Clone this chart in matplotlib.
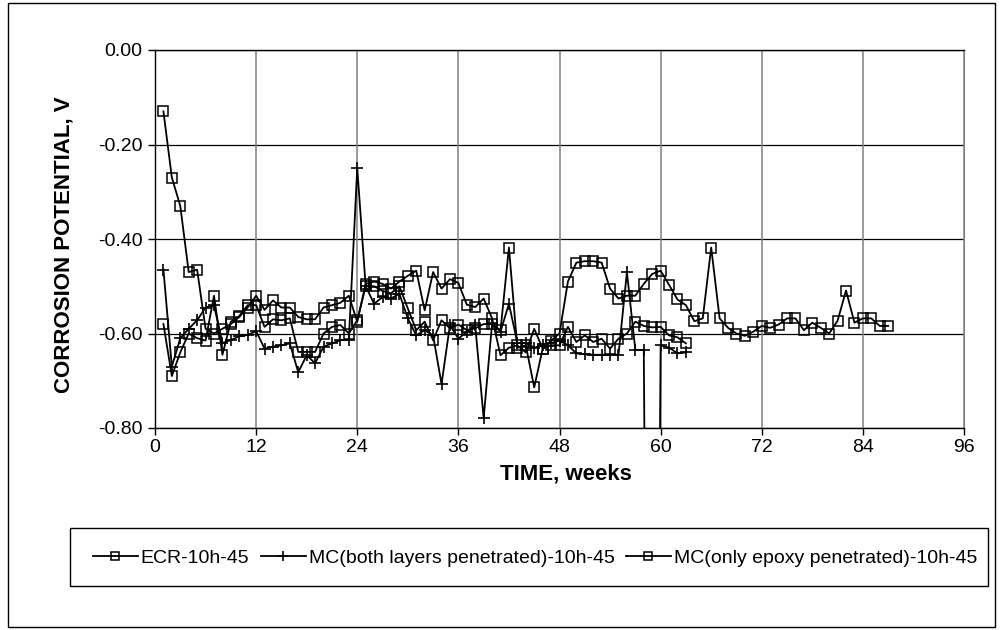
import numpy as np
import matplotlib
matplotlib.use("Agg")
import matplotlib.pyplot as plt
from matplotlib.patches import Rectangle

# -------------------------------------------------------------
# DATA (weekly readings)
# -------------------------------------------------------------
series_names = ["ECR-10h-45",
                "MC(both layers penetrated)-10h-45",
                "MC(only epoxy penetrated)-10h-45"]

ecr_weeks = list(range(1, 88))
ecr_values = [-0.13, -0.27, -0.33, -0.47, -0.465, -0.59, -0.60, -0.59, -0.58, -0.565,
              -0.545, -0.52, -0.55, -0.53, -0.545, -0.545, -0.565, -0.57, -0.57, -0.545,
              -0.54, -0.535, -0.52, -0.575, -0.495, -0.49, -0.495, -0.505, -0.49, -0.478,
              -0.467, -0.551, -0.47, -0.505, -0.485, -0.493, -0.539, -0.544, -0.526, -0.568,
              -0.646, -0.63, -0.625, -0.64, -0.59, -0.632, -0.615, -0.60, -0.49, -0.45,
              -0.447, -0.447, -0.45, -0.505, -0.526, -0.52, -0.52, -0.495, -0.474, -0.467,
              -0.497, -0.528, -0.54, -0.574, -0.568, -0.418, -0.568, -0.588, -0.60, -0.605,
              -0.596, -0.584, -0.588, -0.581, -0.568, -0.568, -0.593, -0.577, -0.588, -0.60,
              -0.573, -0.509, -0.577, -0.568, -0.568, -0.584, -0.584]

both_weeks = list(range(1, 64))
both_values = [-0.465, -0.67, -0.61, -0.59, -0.572, -0.545, -0.54, -0.62, -0.614, -0.606,
               -0.603, -0.595, -0.632, -0.628, -0.625, -0.621, -0.682, -0.646, -0.663, -0.628,
               -0.621, -0.614, -0.614, -0.25, -0.50, -0.537, -0.523, -0.526, -0.516, -0.568,
               -0.604, -0.593, -0.604, -0.707, -0.582, -0.611, -0.596, -0.583, -0.779, -0.579,
               -0.596, -0.537, -0.62, -0.62, -0.63, -0.625, -0.62, -0.615, -0.625, -0.642,
               -0.644, -0.645, -0.645, -0.645, -0.645, -0.47, -0.635, -0.635, -3.0, -0.625,
               -0.63, -0.642, -0.64]

epoxy_weeks = list(range(1, 64))
epoxy_values = [-0.58, -0.69, -0.64, -0.60, -0.61, -0.615, -0.52, -0.645, -0.575, -0.563,
                -0.54, -0.54, -0.586, -0.57, -0.572, -0.568, -0.639, -0.639, -0.639, -0.60,
                -0.586, -0.582, -0.60, -0.572, -0.50, -0.50, -0.51, -0.515, -0.50, -0.547,
                -0.593, -0.575, -0.614, -0.572, -0.589, -0.581, -0.593, -0.589, -0.58, -0.58,
                -0.593, -0.418, -0.63, -0.625, -0.714, -0.632, -0.625, -0.625, -0.586, -0.618,
                -0.604, -0.618, -0.611, -0.632, -0.611, -0.60, -0.575, -0.584, -0.587, -0.586,
                -0.604, -0.608, -0.621]

x_ticks = list(range(0, 97, 12))
y_ticks = [0.0, -0.2, -0.4, -0.6, -0.8]

# -------------------------------------------------------------
# FIGURE
# -------------------------------------------------------------
plt.rcParams['font.family'] = ['Liberation Sans', 'DejaVu Sans']
plt.rcParams['axes.unicode_minus'] = False

W, H = 1001, 630
fig = plt.figure(figsize=(W / 100, H / 100), dpi=100)

# plot area in pixels: left 155, right 964, top 50, bottom 428
ax = fig.add_axes([155 / W, 1 - 428 / H, (964 - 155) / W, (428 - 50) / H])

line_kw = dict(color='black', lw=1.3, clip_on=True)
ax.plot(ecr_weeks, ecr_values, marker='s', ms=6.5, mfc='none', mec='black',
        mew=1.1, label=series_names[0], **line_kw)
ax.plot(both_weeks, both_values, marker='+', ms=9, mew=1.2,
        label=series_names[1], **line_kw)
ax.plot(epoxy_weeks, epoxy_values, marker='s', ms=6.5, mfc='none', mec='black',
        mew=1.1, label=series_names[2], **line_kw)

ax.set_xlim(0, 96)
ax.set_ylim(-0.8, 0.0)
ax.set_xticks(x_ticks)
ax.set_yticks(y_ticks)
ax.set_yticklabels([f"{v:.2f}" for v in y_ticks])

# gridlines: horizontal black, vertical gray
for v in y_ticks:
    ax.axhline(v, color='black', lw=0.9, zorder=0)
for t in x_ticks:
    ax.axvline(t, color='#808080', lw=1.1, zorder=0)

for side in ['left', 'bottom', 'top']:
    ax.spines[side].set_color('black')
    ax.spines[side].set_linewidth(1.0)
ax.spines['right'].set_color('#808080')

ax.tick_params(axis='both', direction='out', length=5, width=1, labelsize=14)
ax.tick_params(axis='x', pad=3)
ax.tick_params(axis='y', pad=4)

fig.text(64 / W, 1 - 245 / H, "CORROSION POTENTIAL, V", rotation=90,
         ha='center', va='center', fontsize=16, fontweight='bold')
fig.text(566 / W, 1 - 474 / H, "TIME, weeks", ha='center', va='center',
         fontsize=16, fontweight='bold')

# legend box
fig.patches.append(Rectangle((70 / W, 1 - 586 / H), (988 - 70) / W, (586 - 528) / H,
                             transform=fig.transFigure, fill=False,
                             edgecolor='black', lw=1.0))
handles, labels = ax.get_legend_handles_labels()
fig.legend(handles, labels, loc='center', bbox_to_anchor=(535 / W, 1 - 558 / H),
           ncol=3, frameon=False, fontsize=14, handlelength=2.3,
           handletextpad=0.15, columnspacing=0.6, markerscale=0.8)

# outer border
fig.patches.append(Rectangle((8 / W, 1 - 627 / H), (995 - 8) / W, (627 - 3) / H,
                             transform=fig.transFigure, fill=False,
                             edgecolor='black', lw=1.0))

fig.savefig("out.png", dpi=100)
